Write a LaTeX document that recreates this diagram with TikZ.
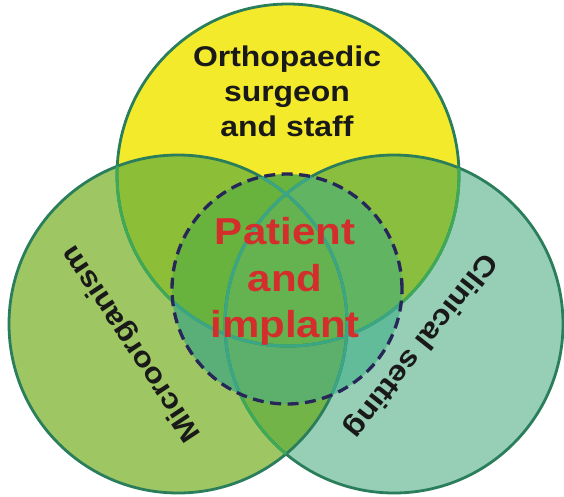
\documentclass[tikz,border=0pt]{standalone}
\usepackage{fontspec}
\setmainfont{Liberation Sans}[FakeStretch=1.12]
\definecolor{cY}{RGB}{244,234,44}
\definecolor{cL}{RGB}{158,198,98}
\definecolor{cR}{RGB}{150,206,182}
\definecolor{cYL}{RGB}{140,190,56}
\definecolor{cYR}{RGB}{138,190,62}
\definecolor{cLR}{RGB}{115,180,72}
\definecolor{cYLR}{RGB}{125,185,62}
\definecolor{dY}{RGB}{105,180,62}
\definecolor{dL}{RGB}{90,174,120}
\definecolor{dR}{RGB}{98,188,154}
\definecolor{dYL}{RGB}{104,178,62}
\definecolor{dYR}{RGB}{96,180,98}
\definecolor{dLR}{RGB}{92,176,108}
\definecolor{dYLR}{RGB}{100,178,80}
\definecolor{edgedark}{RGB}{42,126,92}
\definecolor{edgelight}{RGB}{62,170,88}
\definecolor{edgeteal}{RGB}{58,165,135}
\definecolor{dashcol}{RGB}{38,38,88}
\definecolor{redtext}{RGB}{212,46,44}

\begin{document}
\begin{tikzpicture}[x=1pt,y=-1pt,
  edge/.style={draw=edgedark,line width=2.8pt},
  label/.style={inner sep=0pt,font=\fontsize{28.5}{35}\selectfont\bfseries,text=black!90}]
  \useasboundingbox (0,0) rectangle (564,496);
  \coordinate (top) at (288,175);
  \coordinate (lft) at (178,324);
  \coordinate (rgt) at (394,324);
  \coordinate (mid) at (287,289);
  % base circles
  \fill[cY] (top) circle (171pt);
  \fill[cR] (rgt) circle (169pt);
  \fill[cL] (lft) circle (169pt);
  % overlaps
  \foreach \a/\ra/\b/\rb/\c in {top/171/lft/169/cYL, top/171/rgt/169/cYR, lft/169/rgt/169/cLR}{
    \begin{scope}
      \clip (\a) circle (\ra pt);
      \fill[\c] (\b) circle (\rb pt);
    \end{scope}
  }
  \begin{scope}
    \clip (top) circle (171pt);
    \clip (lft) circle (169pt);
    \fill[cYLR] (rgt) circle (169pt);
  \end{scope}
  % inside the dashed circle
  \begin{scope}
    \clip (mid) circle (115pt);
    \fill[dY] (mid) circle (115pt);
    \fill[dR] (rgt) circle (169pt);
    \fill[dL] (lft) circle (169pt);
    \foreach \a/\ra/\b/\rb/\c in {top/171/lft/169/dYL, top/171/rgt/169/dYR, lft/169/rgt/169/dLR}{
      \begin{scope}
        \clip (\a) circle (\ra pt);
        \fill[\c] (\b) circle (\rb pt);
      \end{scope}
    }
    \clip (top) circle (171pt);
    \clip (lft) circle (169pt);
    \fill[dYLR] (rgt) circle (169pt);
  \end{scope}
  % outlines
  \draw[edge] (top) circle (171pt);
  \draw[edge] (rgt) circle (169pt);
  \draw[edge] (lft) circle (169pt);
  \foreach \a/\ra/\b/\rb in {top/171/lft/169, top/171/rgt/169, rgt/169/lft/169}{
    \begin{scope}
      \clip (\b) circle (\rb pt);
      \draw[edge,draw=edgelight] (\a) circle (\ra pt);
    \end{scope}
  }
  \begin{scope}
    \clip (mid) circle (115pt);
    \foreach \a/\ra in {top/171, rgt/169, lft/169}
      \draw[edge,draw=edgeteal] (\a) circle (\ra pt);
  \end{scope}
  \draw[dashcol,line width=3.3pt,dash pattern=on 11pt off 6.5pt] (mid) circle (115pt);
  % labels
  \node[label,align=center] (surgeon) at (287,91.5) {Orthopaedic\\surgeon\\and staff};
  \node[label,align=center,text=redtext,font=\fontsize{37.5}{46.5}\selectfont\bfseries] (patient) at (285,281.5) {Patient\\and\\implant};
  \node[label,rotate=123.6] (micro) at (132,343) {Microorganism};
  \node[label,rotate=-128.3] (clinic) at (420,345) {Clinical setting};
\end{tikzpicture}
\end{document}
